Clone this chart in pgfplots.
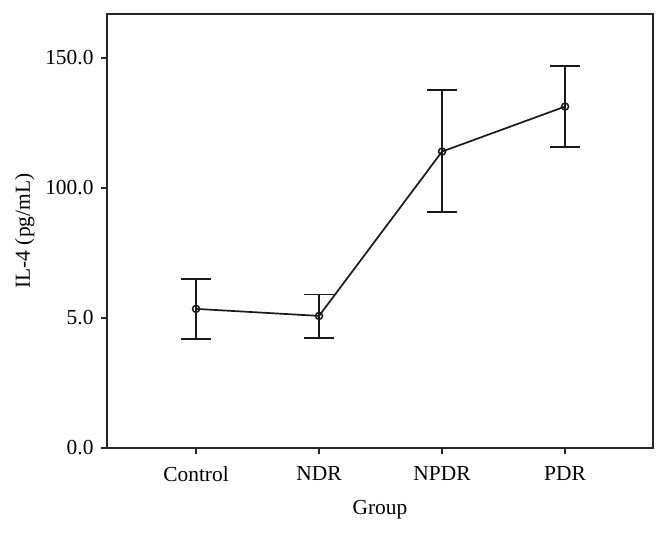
\documentclass[border=0pt]{standalone}
\usepackage{pgfplots}
\pgfplotsset{compat=1.18}
\usepackage{fontspec}
\setmainfont{Liberation Serif}
\newcommand\lf{\fontsize{21.5}{25}\selectfont}
\begin{document}
\begin{tikzpicture}
\pgfplotstableread{
x y ep em
1 53.5 11.6 11.6
2 50.8 8.2 8.4
3 114.0 23.6 23.2
4 131.3 15.7 15.6
}\data
\begin{axis}[
  scale only axis,
  width=546bp, height=434bp,
  xmin=0.276, xmax=4.715,
  ymin=0, ymax=166.9,
  axis line style={line width=1.7bp, color=black!85},
  xtick={1,2,3,4},
  xticklabels={Control,NDR,NPDR,PDR},
  ytick={0,50,100,150},
  yticklabels={0.0,5.0,100.0,150.0},
  tick align=outside,
  xtick pos=bottom, ytick pos=left,
  major tick length=6bp,
  tick style={line width=1.5bp, color=black!85},
  /pgf/number format/assume math mode=true,
  tick label style={font=\lf},
  yticklabel style={xshift=-4bp},
  xticklabel style={yshift=-9bp},
  label style={font=\lf},
  xlabel={Group},
  ylabel={IL-4 (pg/mL)},
  xlabel style={yshift=-12bp},
  ylabel style={yshift=4bp},
  clip=false,
]
\addplot[color=black!90, line width=1.7bp,
  mark=o, mark size=3.5bp, mark options={fill=white, line width=1.5bp},
  error bars/.cd, y dir=both, y explicit,
  error bar style={line width=1.7bp, color=black!90},
  error mark options={rotate=90, mark size=15bp, line width=1.7bp, color=black!90}
] table[x=x, y=y, y error plus=ep, y error minus=em] {\data};
\end{axis}
\pgfresetboundingbox
\path ([xshift=-107bp,yshift=-86bp]current axis.south west) rectangle ([xshift=15bp,yshift=14bp]current axis.north east);
\end{tikzpicture}
\end{document}
